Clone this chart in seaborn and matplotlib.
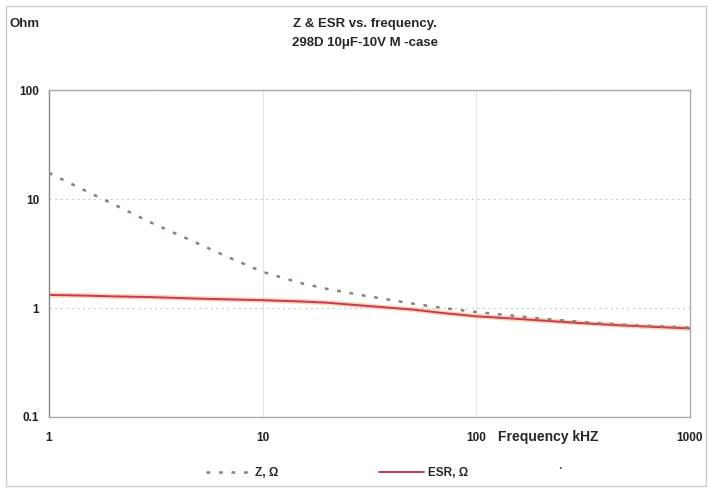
import numpy as np
import pandas as pd
import matplotlib
matplotlib.use("Agg")
import matplotlib.pyplot as plt
from matplotlib.lines import Line2D
import seaborn as sns

freq = [1, 1.5, 2, 3, 5, 7, 10, 15, 20, 30, 50, 70, 100, 150, 200, 300, 500, 700, 1000]
z_ohm = [17.4, 11.8, 9.0, 6.1, 3.9, 2.9, 2.15, 1.7, 1.5, 1.3, 1.1, 1.0, 0.92, 0.85, 0.80, 0.75, 0.70, 0.68, 0.66]
esr_ohm = [1.32, 1.30, 1.28, 1.26, 1.22, 1.20, 1.18, 1.15, 1.12, 1.05, 0.97, 0.90, 0.84, 0.80, 0.77, 0.73, 0.69, 0.67, 0.65]
x_ticks = [1, 10, 100, 1000]
y_ticks = [0.1, 1, 10, 100]

sns.set_theme(style="white")
plt.rcParams['font.family'] = ['Liberation Sans', 'DejaVu Sans']
plt.rcParams['font.weight'] = 'bold'

fig = plt.figure(figsize=(7.09, 4.9), dpi=100)
ax = fig.add_axes([0.069, 0.149, 0.904, 0.667])

esr_col = "#c8385a"
z_col = "#8f7f74"
z_ls = (0, (1.5, 3.5))

df = pd.DataFrame({"f": freq, "Z": z_ohm, "ESR": esr_ohm})
sns.lineplot(data=df, x="f", y="ESR", ax=ax, color="#f6b878", lw=3.5, alpha=0.6)
sns.lineplot(data=df, x="f", y="ESR", ax=ax, color=esr_col, lw=1.4)
sns.lineplot(data=df, x="f", y="Z", ax=ax, color=z_col, lw=1.8, ls=z_ls)

ax.set_xscale("log")
ax.set_yscale("log")
ax.set_xlim(1, 1000)
ax.set_ylim(0.1, 100)
ax.set_xticks(x_ticks)
ax.set_xticklabels([str(t) for t in x_ticks])
ax.set_yticks(y_ticks)
ax.set_yticklabels(["0.1", "1", "10", "100"])
ax.minorticks_off()
ax.tick_params(axis="both", labelsize=8.5, colors="#222222", length=3, pad=8)
ax.tick_params(axis="y", pad=4)
ax.set_xlabel("")
ax.set_ylabel("")

ax.grid(axis="y", color="#cccccc", ls=(0, (2, 3)), lw=0.8)
ax.grid(axis="x", color="#dddddd", ls="-", lw=0.6)
for s in ax.spines.values():
    s.set_color("#aaaaaa")
    s.set_linewidth(1.0)
ax.spines["left"].set_color("#888888")

fig.text(0.014, 0.951, "Ohm", fontsize=9.5, fontweight="bold", ha="left", va="center")
fig.text(0.515, 0.951, "Z & ESR vs. frequency.", fontsize=9.5, fontweight="bold", ha="center", va="center")
fig.text(0.515, 0.912, "298D 10\u03bcF-10V M -case", fontsize=9.5, fontweight="bold", ha="center", va="center")
fig.text(0.703, 0.108, "Frequency kHZ", fontsize=10, fontweight="bold", ha="left", va="center")

handles = [Line2D([], [], color=z_col, lw=1.8, ls=z_ls),
           Line2D([], [], color=esr_col, lw=1.4)]
fig.legend(handles, ["Z, \u03a9", "ESR, \u03a9"], loc="center left", bbox_to_anchor=(0.29, 0.035),
           ncol=2, frameon=False, fontsize=8.5, handlelength=3.8, handletextpad=0.4,
           columnspacing=8.5, borderpad=0, borderaxespad=0)
fig.text(0.79, 0.042, "\u00b7", fontsize=9, color="#555555", ha="center", va="center")

border = plt.Rectangle((0.009, 0.008), 0.987, 0.98, transform=fig.transFigure, fill=False,
                       edgecolor="#cccccc", lw=1)
fig.add_artist(border)

fig.savefig("out.png", dpi=100)
